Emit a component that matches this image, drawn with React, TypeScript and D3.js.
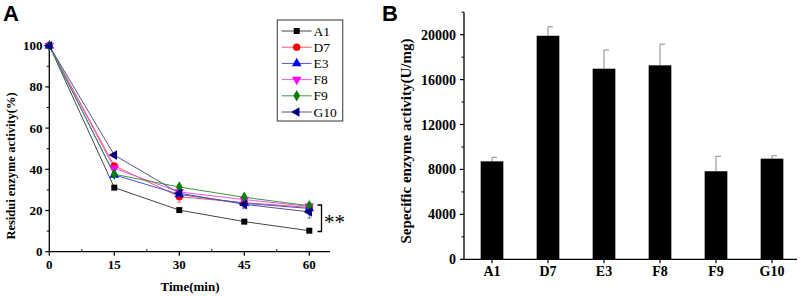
import React from "react";
import * as d3 from "d3";

const times = [0, 15, 30, 45, 60];
const seriesNames = ["A1", "D7", "E3", "F8", "F9", "G10"];
const A1 = [100, 31.1, 20.2, 14.6, 10.2];
const D7 = [100, 41.7, 26.7, 23.8, 21.5];
const E3 = [100, 37.3, 27.8, 23.5, 21.0];
const F8 = [100, 40.5, 29.0, 25.3, 22.0];
const F9 = [100, 37.6, 31.4, 26.4, 22.3];
const G10 = [100, 46.9, 28.4, 23.0, 19.3];
const A1err = [0, 0.6, 0.5, 0.5, 0.5];
const D7err = [0, 1.0, 2.6, 1.2, 1.5];
const E3err = [0, 0.8, 1.2, 2.6, 1.5];
const F8err = [0, 1.0, 1.0, 1.5, 1.6];
const F9err = [0, 0.8, 1.0, 1.2, 1.2];
const G10err = [0, 1.0, 1.0, 1.5, 3.0];
const lineTicks = [0, 15, 30, 45, 60];
const pctTicks = [0, 20, 40, 60, 80, 100];

const barCats = ["A1", "D7", "E3", "F8", "F9", "G10"];
const barVals = [8720, 19900, 16970, 17270, 7840, 8960];
const barErrs = [360, 800, 1670, 1880, 1330, 260];
const barTicks = [0, 4000, 8000, 12000, 16000, 20000];

const lineData = [A1, D7, E3, F8, F9, G10];
const errData = [A1err, D7err, E3err, F8err, F9err, G10err];
const colors = ["#000000", "#ff0000", "#0000ff", "#ff00ff", "#008000", "#000080"];
const lineColors = ["#444444", "#ee5a5a", "#5050dd", "#ee55ee", "#3a9a3a", "#55558a"];

const serif = "'Liberation Serif', 'Times New Roman', serif";
const sans = "'Liberation Sans', Arial, sans-serif";

function marker(i: number, x: number, y: number, key: string, scale = 1) {
  const types = [d3.symbolSquare, d3.symbolCircle, d3.symbolTriangle, d3.symbolTriangle, d3.symbolDiamond, d3.symbolTriangle];
  const sizes = [36, 42, 40, 40, 38, 40];
  const rot = [0, 0, 0, 180, 0, -90];
  const p = d3.symbol().type(types[i]).size(sizes[i] * scale)();
  return <path key={key} d={p as string} fill={colors[i]} transform={`translate(${x},${y}) rotate(${rot[i]})`} />;
}

function LeftPanel() {
  const x = d3.scaleLinear().domain([0, 60]).range([49.3, 309.3]);
  const y = d3.scaleLinear().domain([0, 100]).range([251.7, 45.7]);
  const line = d3.line<number>().x((_, j) => x(times[j])).y((d) => y(d));
  const minorX = [7.5, 22.5, 37.5, 52.5];
  const minorY = [10, 30, 50, 70, 90];
  const xEnd = 330;
  return (
    <g>
      <text x={3} y={21} fontFamily={sans} fontWeight="bold" fontSize={22}>A</text>
      <line x1={x(0)} x2={xEnd} y1={y(0)} y2={y(0)} stroke="#000" strokeWidth={1.3} />
      <line x1={x(0)} x2={x(0)} y1={y(0)} y2={y(100)} stroke="#000" strokeWidth={1.3} />
      {lineTicks.map((t) => (
        <g key={"xt" + t}>
          <line x1={x(t)} x2={x(t)} y1={y(0)} y2={y(0) + 4} stroke="#000" strokeWidth={1.2} />
          <text x={x(t)} y={269} textAnchor="middle" fontFamily={serif} fontWeight="bold" fontSize={13}>{t}</text>
        </g>
      ))}
      {minorX.map((t) => (
        <line key={"xm" + t} x1={x(t)} x2={x(t)} y1={y(0)} y2={y(0) - 2.5} stroke="#000" strokeWidth={1} />
      ))}
      {pctTicks.map((t) => (
        <g key={"yt" + t}>
          <line x1={x(0) - 4} x2={x(0)} y1={y(t)} y2={y(t)} stroke="#000" strokeWidth={1.2} />
          <text x={42.5} y={y(t) + 4.5} textAnchor="end" fontFamily={serif} fontWeight="bold" fontSize={13}>{t}</text>
        </g>
      ))}
      {minorY.map((t) => (
        <line key={"ym" + t} x1={x(0) - 2.5} x2={x(0)} y1={y(t)} y2={y(t)} stroke="#000" strokeWidth={1} />
      ))}
      <text x={190} y={291} textAnchor="middle" fontFamily={serif} fontWeight="bold" fontSize={13}>Time(min)</text>
      <text transform={`translate(15,${166}) rotate(-90)`} textAnchor="middle" fontFamily={serif} fontWeight="bold" fontSize={12.5}>Residui enzyme activity(%)</text>
      {lineData.map((s, i) => (
        <path key={"l" + i} d={line(s) as string} fill="none" stroke={lineColors[i]} strokeWidth={1} />
      ))}
      {lineData.map((s, i) =>
        s.map((v, j) =>
          errData[i][j] > 0 ? (
            <g key={`e${i}-${j}`} stroke={colors[i]} strokeWidth={0.8} opacity={0.7}>
              <line x1={x(times[j])} x2={x(times[j])} y1={y(v - errData[i][j])} y2={y(v + errData[i][j])} />
              <line x1={x(times[j]) - 2} x2={x(times[j]) + 2} y1={y(v - errData[i][j])} y2={y(v - errData[i][j])} />
              <line x1={x(times[j]) - 2} x2={x(times[j]) + 2} y1={y(v + errData[i][j])} y2={y(v + errData[i][j])} />
            </g>
          ) : null
        )
      )}
      {lineData.map((s, i) => s.map((v, j) => marker(i, x(times[j]), y(v), `m${i}-${j}`)))}
      <path d={`M317.5,205 H321.5 V231.5 H317.5`} fill="none" stroke="#000" strokeWidth={1.3} />
      <text x={324} y={229} fontFamily={serif} fontSize={21}>**</text>
      <rect x={277.3} y={20} width={65.4} height={101} fill="#fff" stroke="#555" strokeWidth={1.2} />
      {seriesNames.map((n, i) => {
        const ly = 31 + i * 16.2;
        return (
          <g key={"lg" + n}>
            <line x1={281.7} x2={311.7} y1={ly} y2={ly} stroke={lineColors[i]} strokeWidth={1} />
            {marker(i, 296.7, ly, "lm" + i)}
            <text x={313.5} y={ly + 4.6} fontFamily={serif} fontSize={13.5}>{n}</text>
          </g>
        );
      })}
    </g>
  );
}

function RightPanel() {
  const x = d3.scaleBand<string>().domain(barCats).range([464, 800]).paddingInner(0.595).paddingOuter(0.2975);
  const y = d3.scaleLinear().domain([0, 22000]).range([259.3, 12.2]);
  const minor = [2000, 6000, 10000, 14000, 18000, 22000];
  const bw = x.bandwidth();
  return (
    <g>
      <text x={382} y={21} fontFamily={sans} fontWeight="bold" fontSize={22}>B</text>
      {barCats.map((c, i) => {
        const cx = (x(c) as number) + bw / 2;
        const top = y(barVals[i]);
        const et = y(barVals[i] + barErrs[i]);
        return (
          <g key={"b" + c}>
            <line x1={cx} x2={cx} y1={top} y2={et} stroke="#888" strokeWidth={1} />
            <line x1={cx} x2={cx + 5} y1={et} y2={et} stroke="#888" strokeWidth={1} />
            <rect x={x(c)} y={top} width={bw} height={y(0) - top} fill="#000" />
          </g>
        );
      })}
      <line x1={464} x2={797} y1={y(0)} y2={y(0)} stroke="#000" strokeWidth={1.3} />
      <line x1={464} x2={464} y1={y(0)} y2={y(22000)} stroke="#000" strokeWidth={1.3} />
      {barCats.map((c) => {
        const cx = (x(c) as number) + bw / 2;
        return (
          <g key={"xt" + c}>
            <line x1={cx} x2={cx} y1={y(0)} y2={y(0) + 4} stroke="#000" strokeWidth={1.2} />
            <text x={cx} y={276} textAnchor="middle" fontFamily={serif} fontWeight="bold" fontSize={14}>{c}</text>
          </g>
        );
      })}
      {barTicks.map((t) => (
        <g key={"yt" + t}>
          <line x1={460} x2={464} y1={y(t)} y2={y(t)} stroke="#000" strokeWidth={1.2} />
          <text x={456} y={y(t) + 5} textAnchor="end" fontFamily={serif} fontWeight="bold" fontSize={14}>{t}</text>
        </g>
      ))}
      {minor.map((t) => (
        <line key={"ym" + t} x1={461.5} x2={464} y1={y(t)} y2={y(t)} stroke="#000" strokeWidth={1} />
      ))}
      <text transform={`translate(411,${141}) rotate(-90)`} textAnchor="middle" fontFamily={serif} fontWeight="bold" fontSize={15}>Sepecific enzyme activity(U/mg)</text>
    </g>
  );
}

export default function App() {
  return (
    <svg width={803} height={296} style={{ position: "absolute", left: 0, top: 0, background: "#fff" }}>
      <rect width={803} height={296} fill="#fff" />
      <LeftPanel />
      <RightPanel />
    </svg>
  );
}
